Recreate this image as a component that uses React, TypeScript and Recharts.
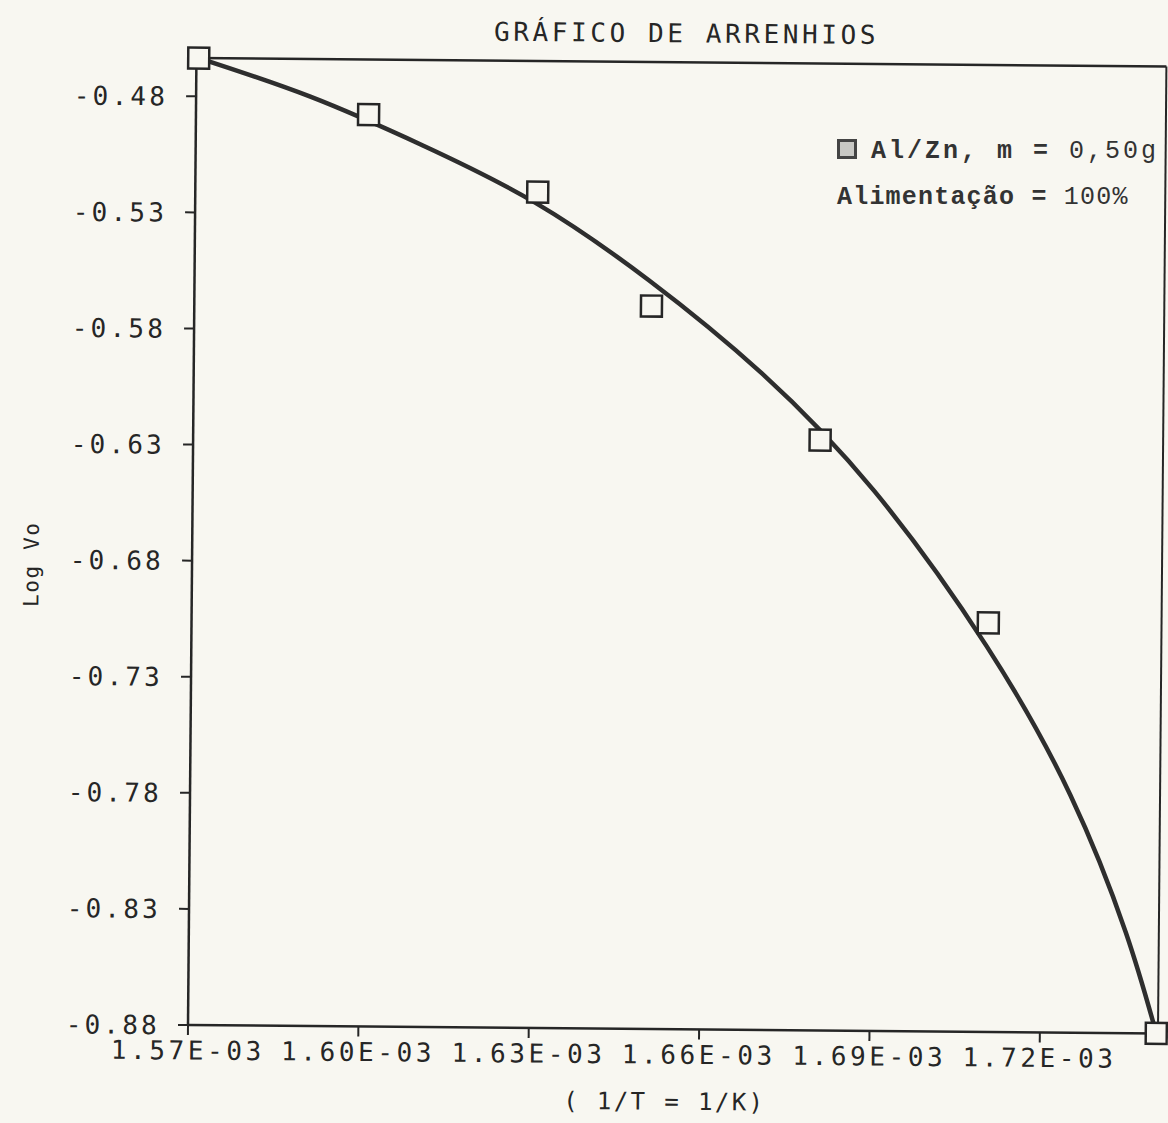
import React from 'react';
import { ComposedChart, Line, Scatter, XAxis, YAxis, ReferenceLine } from 'recharts';

// 1/T values are in units of 1E-03 (1/K)
const xTicks = [1.57, 1.6, 1.63, 1.66, 1.69, 1.72];
const yTicks = [-0.88, -0.83, -0.78, -0.73, -0.68, -0.63, -0.58, -0.53, -0.48];

// measured points (squares)
const pointX = [1.5704, 1.6004, 1.6303, 1.6505, 1.6804, 1.7103, 1.7405];
const pointY = [-0.4635, -0.4872, -0.52, -0.5686, -0.6257, -0.7038, -0.88];

// fitted curve
const curveX = [1.5704, 1.59, 1.61, 1.63, 1.65, 1.67, 1.69, 1.71, 1.725, 1.735, 1.7405];
const curveY = [-0.4635, -0.4796, -0.5003, -0.5247, -0.5575, -0.5971, -0.6474, -0.7137, -0.7776, -0.8367, -0.88];

const xDomain = [1.57, 1.7408];
const yDomain = [-0.88, -0.4635];

const points = pointX.map((x, i) => ({ x, y: pointY[i] }));
const curve = curveX.map((x, i) => ({ x, y: curveY[i] }));

const INK = '#262626';
const PAPER = '#f8f7f1';
const PLOT_FONT = '"DejaVu Sans Mono", monospace';
const TYPE_FONT = '"Liberation Mono", "Courier New", monospace';

const YTick = (props: any) => {
  const { x, y, payload } = props;
  return (
    <text x={x} y={y} dy="0.36em" textAnchor="end" fontFamily={PLOT_FONT} fontSize={26} fill={INK} letterSpacing={3.2}>
      {Number(payload.value).toFixed(2)}
    </text>
  );
};

const XTick = (props: any) => {
  const { x, y, payload } = props;
  return (
    <text x={x} y={y} dy="0.75em" textAnchor="middle" fontFamily={PLOT_FONT} fontSize={26} fill={INK} letterSpacing={3.6}>
      {Number(payload.value).toFixed(2) + 'E-03'}
    </text>
  );
};

const SquareMark = (props: any) => {
  const { cx, cy } = props;
  return <rect x={cx - 10.5} y={cy - 10.5} width={21} height={21} fill={PAPER} stroke={INK} strokeWidth={2.5} />;
};

const XLabel = (props: any) => {
  const vb = props.viewBox;
  return (
    <text x={vb.x + vb.width / 2 - 8} y={vb.y + 72} dy="0.36em" textAnchor="middle" fontFamily={PLOT_FONT} fontSize={24} fill={INK} letterSpacing={2.4}>
      ( 1/T = 1/K)
    </text>
  );
};

const YLabel = (props: any) => {
  const vb = props.viewBox;
  const cx = 27;
  const cy = vb.y + vb.height / 2 + 24;
  return (
    <text x={cx} y={cy} dy="0.36em" textAnchor="middle" fontFamily={PLOT_FONT} fontSize={21} fill={INK} letterSpacing={1.6} transform={`rotate(-90 ${cx} ${cy})`}>
      Log Vo
    </text>
  );
};

export default function App() {
  return (
    <div style={{ position: 'absolute', left: 0, top: 0, width: 1168, height: 1123, background: PAPER, overflow: 'hidden' }}>
      <div style={{ position: 'absolute', left: 0, top: 0, width: 1168, height: 1123, transform: 'rotate(0.5deg)', transformOrigin: '188px 1025px' }}>
        <div style={{ position: 'absolute', left: 0, top: 9, width: 1168, textAlign: 'center', fontFamily: PLOT_FONT, fontSize: 26, color: INK, letterSpacing: 3.6, paddingLeft: 188, boxSizing: 'border-box', lineHeight: '40px' }}>
          GRÁFICO DE ARRENHIOS
        </div>
        <ComposedChart width={1168} height={1123} margin={{ top: 58, right: 10, bottom: 38, left: 28 }} style={{ position: 'absolute', left: 0, top: 0 }}>
          <XAxis
            type="number"
            dataKey="x"
            domain={xDomain}
            ticks={xTicks}
            tick={XTick}
            tickSize={10}
            tickMargin={5}
            height={60}
            axisLine={{ stroke: INK, strokeWidth: 2.5 }}
            tickLine={{ stroke: INK, strokeWidth: 2 }}
            label={XLabel}
          />
          <YAxis
            type="number"
            dataKey="y"
            domain={yDomain}
            ticks={yTicks}
            tick={YTick}
            tickSize={10}
            tickMargin={18}
            width={160}
            axisLine={{ stroke: INK, strokeWidth: 2.5 }}
            tickLine={{ stroke: INK, strokeWidth: 2 }}
            label={YLabel}
          />
          <ReferenceLine y={yDomain[1]} stroke={INK} strokeWidth={2.5} />
          <ReferenceLine x={xDomain[1]} stroke={INK} strokeWidth={2} />
          <Line data={curve} dataKey="y" type="natural" stroke="#2e2e2e" strokeWidth={4.5} dot={false} activeDot={false} isAnimationActive={false} />
          <Scatter data={points} dataKey="y" shape={SquareMark} isAnimationActive={false} />
        </ComposedChart>
      </div>
      <div style={{ position: 'absolute', left: 837, top: 129, fontFamily: TYPE_FONT, color: '#333', fontSize: 25, lineHeight: '46px', whiteSpace: 'pre' }}>
        <div>
          <span style={{ display: 'inline-block', width: 14, height: 14, border: '3px solid #444', background: '#c8c8c4', verticalAlign: '-1px', marginRight: 14 }}></span>
          <span style={{ fontWeight: 'bold', letterSpacing: 3 }}>Al/Zn, m = </span>
          <span style={{ letterSpacing: 3 }}>0,50g</span>
        </div>
        <div>
          <span style={{ fontWeight: 'bold', letterSpacing: 1.2 }}>Alimentação = </span>
          <span style={{ letterSpacing: 1.2 }}>100%</span>
        </div>
      </div>
    </div>
  );
}
